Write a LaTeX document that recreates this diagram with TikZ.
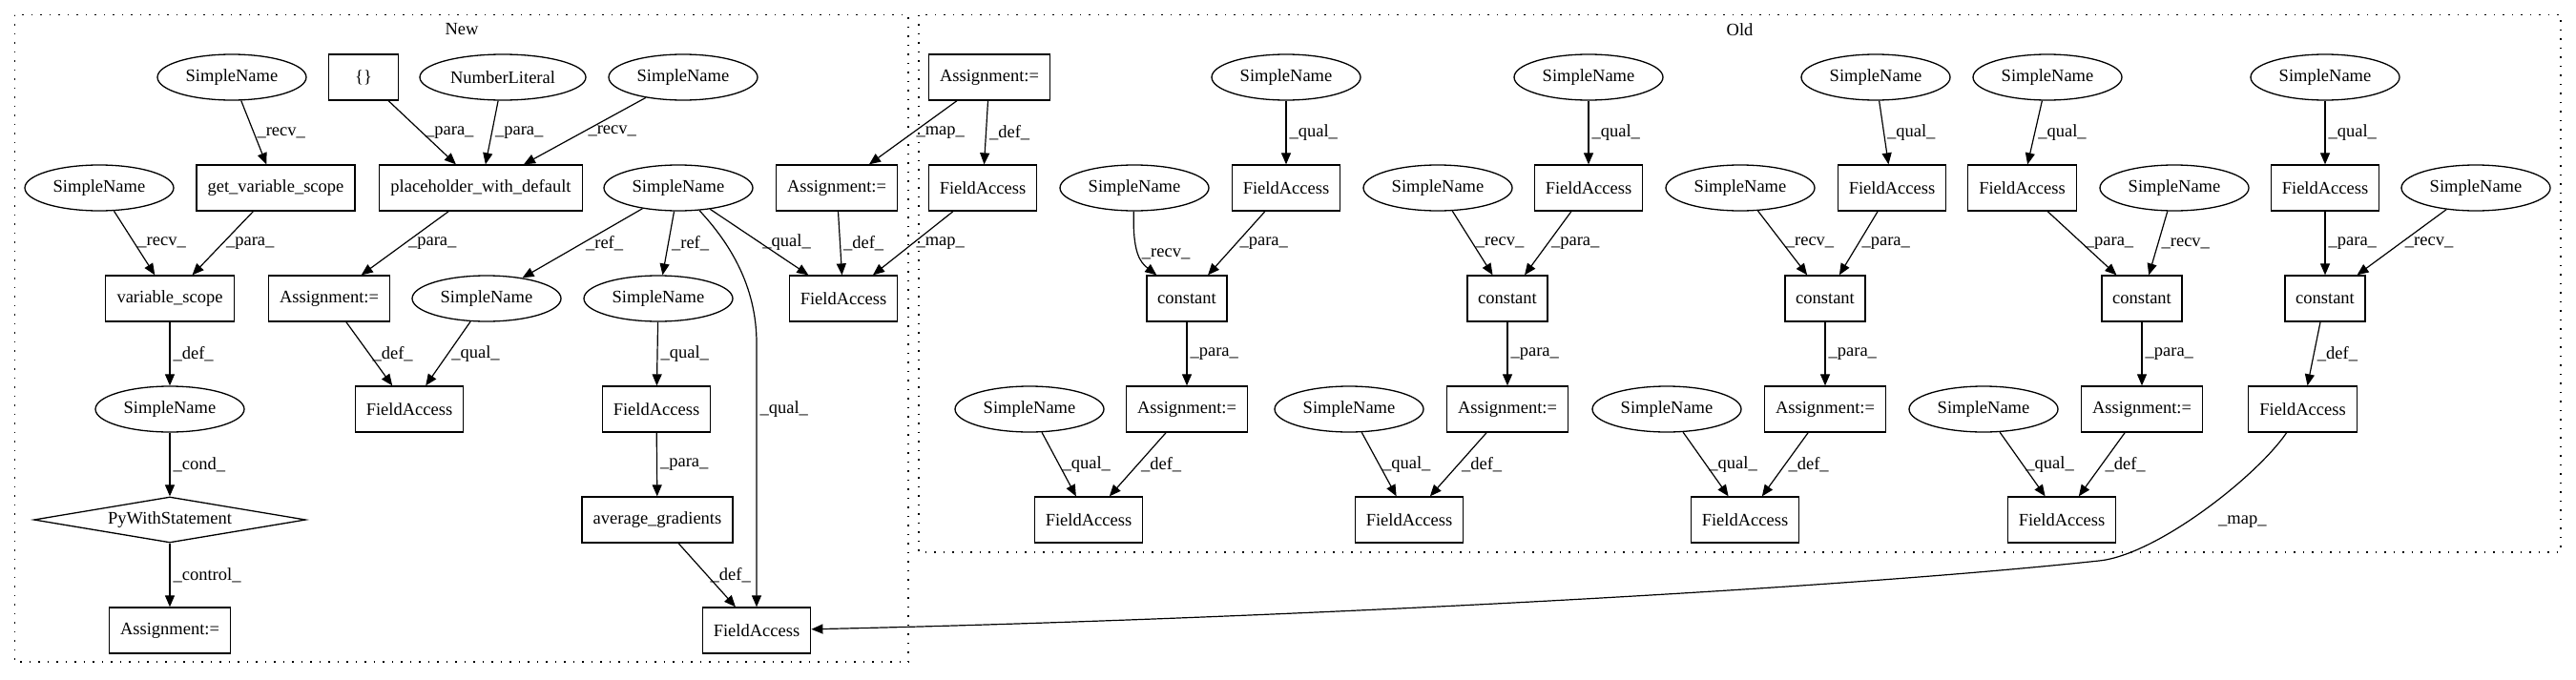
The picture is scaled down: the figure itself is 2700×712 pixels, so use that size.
\documentclass[tikz,border=0pt]{standalone}
\usepackage{fontspec}
\setmainfont{Liberation Serif}
\usetikzlibrary{shapes.geometric,arrows.meta}
\begin{document}
\begin{tikzpicture}[x=1pt,y=-1pt,
 every node/.style={font=\fontsize{18.5}{22}\selectfont},
 sn/.style={draw, ellipse, minimum width=156pt, minimum height=48pt, inner sep=0pt, line width=1.3pt},
 bx/.style={draw, rectangle, minimum height=48pt, inner sep=0pt, line width=1.3pt},
 fa/.style={bx, minimum width=113.5pt},
 asg/.style={bx, minimum width=127pt},
 cst/.style={bx, minimum width=84pt},
 arr/.style={-{Triangle[length=12pt,width=10pt]}, line width=1.2pt},
 lbl/.style={anchor=west, inner sep=3pt},
 clus/.style={dash pattern=on 1.5pt off 8pt, line width=1.3pt}
]
\useasboundingbox (0,0) rectangle (2700,712);
% clusters
\draw[clus] (15.3,15.7) rectangle (952,694);
\draw[clus] (963,15.7) rectangle (2684,579);
\node (newlbl) at (484,31) {New};
\node (oldlbl) at (1823.5,31) {Old};

% ---------- New ----------
\node[sn] (nsn1) at (243,81) {SimpleName};
\node[bx, minimum width=72.5pt] (nbr) at (381,81) {\{\}};
\node[sn, minimum width=174pt] (nnum) at (527,81) {NumberLiteral};
\node[sn] (nsn2) at (716,81) {SimpleName};
\node[sn] (nsn3) at (104,197) {SimpleName};
\node[bx, minimum width=166pt] (ngvs) at (289,197) {get\_variable\_scope};
\node[bx, minimum width=213pt] (npwd) at (504,197) {placeholder\_with\_default};
\node[sn] (nhub) at (711,197) {SimpleName};
\node[asg] (nas1) at (877,197) {Assignment:=};
\node[bx, minimum width=134.5pt] (nvs) at (178,313) {variable\_scope};
\node[asg] (nas2) at (345,313) {Assignment:=};
\node[sn] (nref1) at (510,313) {SimpleName};
\node[sn] (nref2) at (690,313) {SimpleName};
\node[fa] (nfa1) at (884,313) {FieldAccess};
\node[sn] (nsn4) at (178,429) {SimpleName};
\node[fa] (nfa2) at (429,429) {FieldAccess};
\node[fa] (nfa3) at (688,429) {FieldAccess};
\node[draw, diamond, aspect=5.94, minimum width=285pt, minimum height=48pt, inner sep=0pt, line width=1.3pt] (npy) at (178,545) {PyWithStatement};
\node[bx, minimum width=158pt] (navg) at (689,545) {average\_gradients};
\node[asg] (nas3) at (178,661) {Assignment:=};
\node[fa] (nfa4) at (793,661) {FieldAccess};

\draw[arr] (nsn1) -- node[lbl]{\_recv\_} (ngvs);
\draw[arr] (nbr) -- node[lbl]{\_para\_} (npwd);
\draw[arr] (nnum) -- node[lbl]{\_para\_} (npwd);
\draw[arr] (nsn2) -- node[lbl]{\_recv\_} (npwd);
\draw[arr] (nsn3) -- node[lbl]{\_recv\_} (nvs);
\draw[arr] (ngvs) -- node[lbl]{\_para\_} (nvs);
\draw[arr] (npwd) -- node[lbl]{\_para\_} (nas2);
\draw[arr] (nhub) -- node[lbl]{\_ref\_} (nref1);
\draw[arr] (nhub) -- node[lbl]{\_ref\_} (nref2);
\draw[arr] (nhub) -- node[lbl]{\_qual\_} (nfa1);
\draw[arr] (nas1) -- node[lbl]{\_def\_} (nfa1);
\draw[arr] (nhub) .. controls (765,255) and (793,300) .. (793,360) -- node[lbl, pos=0.25]{\_qual\_} (nfa4);
\draw[arr] (nvs) -- node[lbl]{\_def\_} (nsn4);
\draw[arr] (nas2) -- node[lbl]{\_def\_} (nfa2);
\draw[arr] (nref1) -- node[lbl]{\_qual\_} (nfa2);
\draw[arr] (nref2) -- node[lbl]{\_qual\_} (nfa3);
\draw[arr] (nsn4) -- node[lbl]{\_cond\_} (npy);
\draw[arr] (npy) -- node[lbl]{\_control\_} (nas3);
\draw[arr] (nfa3) -- node[lbl]{\_para\_} (navg);
\draw[arr] (navg) -- node[lbl]{\_def\_} (nfa4);

% ---------- Old ----------
\node[asg] (oas) at (1037,81) {Assignment:=};
\node[fa] (ofa) at (1030,197) {FieldAccess};
\draw[arr] (oas) -- node[lbl]{\_def\_} (ofa);
\draw[arr] (oas) -- node[lbl]{\_map\_} (nas1);
\draw[arr] (ofa) -- node[lbl]{\_map\_} (nfa1);

\foreach \g/\tx/\fx/\rx/\cx/\bsx/\bfx in {1/1348/1348/1189/1244/1079/1141,
  2/1665/1665/1507/1580/1414/1477, 3/1966/1983/1824/1913/1747/1829,
  4/2146/2119.5/2279/2245/2079/2161} {
  \node[sn] (ot\g) at (\tx,81) {SimpleName};
  \node[fa] (of\g) at (\fx,197) {FieldAccess};
  \node[sn] (or\g) at (\rx,197) {SimpleName};
  \node[cst] (oc\g) at (\cx,313) {constant};
  \node[asg] (oa\g) at (\cx,429) {Assignment:=};
  \node[sn] (ob\g) at (\bsx,429) {SimpleName};
  \node[fa] (obf\g) at (\bfx,545) {FieldAccess};
  \draw[arr] (ot\g) -- node[lbl]{\_qual\_} (of\g);
  \draw[arr] (of\g) -- node[lbl]{\_para\_} (oc\g);
  \draw[arr] (oc\g) -- node[lbl]{\_para\_} (oa\g);
  \draw[arr] (ob\g) -- node[lbl]{\_qual\_} (obf\g);
  \draw[arr] (oa\g) -- node[lbl]{\_def\_} (obf\g);
}
\draw[arr] (or1) .. controls (1187,265) and (1195,275) .. node[lbl]{\_recv\_} (oc1);
\foreach \g in {2,3,4} {
  \draw[arr] (or\g) -- node[lbl]{\_recv\_} (oc\g);
}
% group 5
\node[sn] (ot5) at (2437,81) {SimpleName};
\node[fa] (of5) at (2437,197) {FieldAccess};
\node[sn] (or5) at (2595,197) {SimpleName};
\node[cst] (oc5) at (2437,313) {constant};
\node[fa] (od5) at (2413.5,429) {FieldAccess};
\draw[arr] (ot5) -- node[lbl]{\_qual\_} (of5);
\draw[arr] (of5) -- node[lbl]{\_para\_} (oc5);
\draw[arr] (or5) -- node[lbl]{\_recv\_} (oc5);
\draw[arr] (oc5) -- node[lbl]{\_def\_} (od5);
\draw[arr] (od5) .. controls (2365,500) and (2260,582) .. (2200,588)
   .. controls (1900,620) and (1300,650) .. (nfa4);
\node[lbl] (maplbl) at (2322,547) {\_map\_};
\end{tikzpicture}
\end{document}
